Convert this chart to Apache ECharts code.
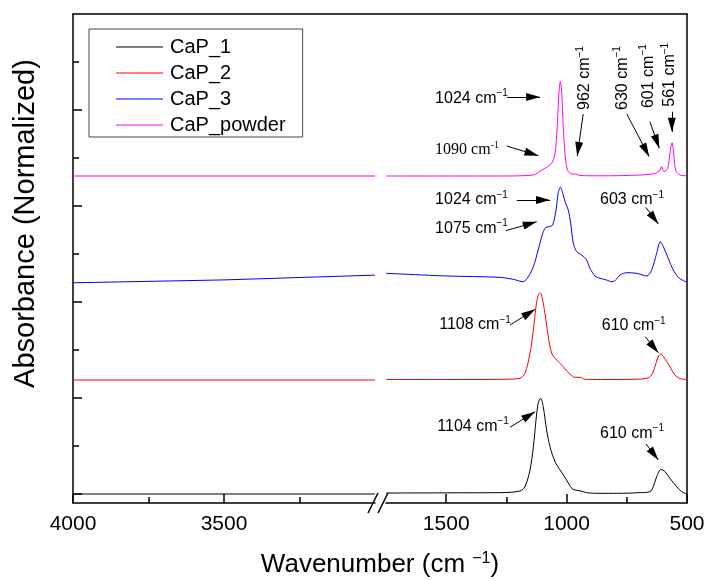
<!DOCTYPE html>
<html>
<head>
<meta charset="utf-8">
<script src="https://cdn.jsdelivr.net/npm/echarts@6/dist/echarts.min.js"></script>
<style>
html, body { margin: 0; padding: 0; background: #fff; }
#chart { width: 705px; height: 581px; }
</style>
</head>
<body>
<div id="chart"></div>
<script>
// spectra; values are relative to each trace's baseline
var seriesNames = ['CaP_1', 'CaP_2', 'CaP_3', 'CaP_powder'];
var seriesColors = ['#000000', '#ff0000', '#0000ff', '#ff00ff'];
var offsets = [0, 1.1875, 2.2, 3.3125];

var leftWn = [4000, 3500, 3000];
var cap1Left = [0, 0, 0];
var cap2Left = [0, 0, 0];
var cap3Left = [0, 0.03, 0.08];
var powderLeft = [0, 0, 0];

var cap1Wn = [1750, 1500, 1277, 1194, 1173, 1152, 1138, 1127, 1118, 1108, 1097, 1083, 1069, 1048, 1027, 1000, 979, 965, 944, 917, 861, 792, 695, 654, 640, 626, 608, 591, 571, 543, 522, 508, 500];
var cap1Abs = [0.010, 0.012, 0.014, 0.031, 0.076, 0.250, 0.493, 0.771, 0.945, 0.997, 0.909, 0.667, 0.493, 0.336, 0.250, 0.146, 0.059, 0.042, 0.034, 0.014, 0.007, 0.007, 0.014, 0.024, 0.076, 0.180, 0.257, 0.232, 0.164, 0.076, 0.024, 0.007, 0.005];

var cap2Wn = [1750, 1500, 1277, 1194, 1173, 1152, 1138, 1127, 1118, 1110, 1101, 1090, 1076, 1062, 1041, 1020, 1000, 979, 965, 944, 924, 860, 723, 667, 647, 633, 622, 609, 598, 584, 571, 550, 529, 508, 500];
var cap2Abs = [0.005, 0.005, 0.007, 0.018, 0.070, 0.278, 0.521, 0.764, 0.885, 0.909, 0.851, 0.695, 0.451, 0.278, 0.208, 0.156, 0.097, 0.045, 0.028, 0.028, 0.007, 0.005, 0.007, 0.018, 0.052, 0.139, 0.226, 0.271, 0.243, 0.191, 0.139, 0.052, 0.014, 0.007, 0.005];

var cap3Wn = [1750, 1498, 1277, 1221, 1180, 1159, 1138, 1118, 1099, 1086, 1072, 1058, 1044, 1035, 1026, 1016, 1004, 993, 983, 972, 958, 937, 917, 903, 882, 861, 834, 813, 799, 778, 750, 709, 667, 647, 626, 611, 598, 578, 557, 536, 515, 504, 500];
var cap3Abs = [0.099, 0.071, 0.057, 0.036, 0.011, 0.064, 0.168, 0.342, 0.516, 0.578, 0.584, 0.602, 0.758, 0.932, 0.995, 0.932, 0.828, 0.758, 0.620, 0.411, 0.324, 0.290, 0.238, 0.151, 0.071, 0.047, 0.029, 0.011, 0.022, 0.081, 0.105, 0.099, 0.071, 0.133, 0.307, 0.428, 0.376, 0.255, 0.133, 0.057, 0.022, 0.011, 0.010];

var powderWn = [1750, 1277, 1138, 1103, 1083, 1062, 1048, 1039, 1032, 1026, 1020, 1014, 1004, 993, 972, 962, 944, 861, 695, 633, 612, 606, 596, 580, 571, 562, 555, 547, 529, 504, 500];
var powderAbs = [0, 0, 0.010, 0.062, 0.091, 0.132, 0.236, 0.514, 0.861, 0.984, 0.861, 0.514, 0.167, 0.045, 0.018, 0.021, 0.005, 0.002, 0.010, 0.028, 0.062, 0.099, 0.045, 0.080, 0.236, 0.347, 0.236, 0.062, 0.010, 0.002, 0];

var leftTicks = [4000, 3500];
var leftMinor = [3750, 3250];
var rightTicks = [1500, 1000, 500];
var rightMinor = [1250, 750];
var yMajor = [0, 1, 2, 3, 4];
var yMinor = [0.5, 1.5, 2.5, 3.5, 4.5];

// peak labels (wavenumber, stacked absorbance), rot = vertical text
var peakLabels = [
    { t: '1024', x: 1546, y: 4.122 },
    { t: '1090', x: 1546, y: 3.583, serif: true },
    { t: '962', x: 924, y: 4.0, rot: true },
    { t: '630', x: 767, y: 4.0, rot: true },
    { t: '601', x: 661, y: 4.02, rot: true },
    { t: '561', x: 571, y: 4.034, rot: true },
    { t: '1024', x: 1546, y: 3.0625 },
    { t: '1075', x: 1546, y: 2.768 },
    { t: '603', x: 861, y: 3.0625 },
    { t: '1108', x: 1529, y: 1.76 },
    { t: '610', x: 854, y: 1.75 },
    { t: '1104', x: 1537, y: 0.701 },
    { t: '610', x: 861, y: 0.632 }
];
// arrow tail -> tip
var peakArrows = [
    [1247, 4.135, 1110, 4.135],
    [1249, 3.625, 1117, 3.524],
    [931, 3.958, 956, 3.521],
    [750, 3.958, 657, 3.514],
    [654, 3.878, 615, 3.601],
    [563, 3.982, 563, 3.774],
    [1207, 3.0625, 1069, 3.0625],
    [1252, 2.743, 1124, 2.836],
    [671, 2.986, 619, 2.8125],
    [1235, 1.760, 1131, 1.924],
    [674, 1.639, 619, 1.472],
    [1235, 0.695, 1131, 0.857],
    [670, 0.521, 619, 0.354]
];

var sans = 'Liberation Sans, Arial, sans-serif';
var serif = 'Liberation Serif, Times New Roman, serif';

function pairs(wn, vals, off) {
    var out = [];
    for (var i = 0; i < wn.length; i++) out.push([wn[i], vals[i] + off]);
    return out;
}

var chart = echarts.init(document.getElementById('chart'), null, { renderer: 'canvas' });

var leftVals = [cap1Left, cap2Left, cap3Left, powderLeft];
var rightWn = [cap1Wn, cap2Wn, cap3Wn, powderWn];
var rightVals = [cap1Abs, cap2Abs, cap3Abs, powderAbs];

var series = [];
for (var i = 0; i < 4; i++) {
    series.push({
        name: seriesNames[i], type: 'line', xAxisIndex: 0, yAxisIndex: 0,
        data: pairs(leftWn, leftVals[i], offsets[i]),
        showSymbol: false, symbol: 'none', color: seriesColors[i],
        lineStyle: { width: 1 }, silent: true
    });
}
for (var i = 0; i < 4; i++) {
    series.push({
        name: seriesNames[i], type: 'line', xAxisIndex: 2, yAxisIndex: 1,
        data: pairs(rightWn[i], rightVals[i], offsets[i]),
        showSymbol: false, symbol: 'none', color: seriesColors[i], smooth: 0.3,
        lineStyle: { width: 1 }, silent: true
    });
}

// annotations ride on an empty series in the right grid
series.push({
    type: 'line', xAxisIndex: 2, yAxisIndex: 1, data: [], silent: true,
    markPoint: {
        symbol: 'circle', symbolSize: 0, silent: true, animation: false,
        data: peakLabels.map(function (p) {
            var f = p.serif ? serif : sans;
            return {
                coord: [p.x, p.y],
                label: {
                    show: true, position: 'inside', align: 'left', verticalAlign: 'middle',
                    rotate: p.rot ? 90 : 0,
                    formatter: '{n|' + p.t + ' cm}{s|' + (p.serif ? '-1' : '\u22121') + '}',
                    rich: {
                        n: { fontSize: 16, fontFamily: f, color: '#000', lineHeight: 20 },
                        s: { fontSize: 10, fontFamily: f, color: '#000', lineHeight: 10, verticalAlign: 'top' }
                    }
                }
            };
        })
    },
    markLine: {
        silent: true, animation: false, symbol: ['none', 'triangle'], symbolSize: [0, 10],
        label: { show: false },
        lineStyle: { color: '#000', width: 1, type: 'solid' },
        data: peakArrows.map(function (a) {
            return [
                { coord: [a[0], a[1]], symbol: 'none' },
                { coord: [a[2], a[3]], symbol: 'triangle', symbolSize: [8, 14], symbolOffset: [0, 7] }
            ];
        })
    }
});

function plainNum(v) { return String(v); }

var frameLine = { show: true, onZero: false, lineStyle: { color: '#000', width: 1.5 } };
var noLine = { show: false, onZero: false };

var option = {
    animation: false,
    backgroundColor: '#fff',
    grid: [
        { left: 73, top: 14, width: 302, bottom: 78, outerBoundsMode: 'none', containLabel: false },
        { left: 386, top: 14, right: 18, bottom: 78, outerBoundsMode: 'none', containLabel: false },
        { left: 73, top: 14, right: 18, bottom: 78, outerBoundsMode: 'none', containLabel: false }
    ],
    legend: {
        orient: 'vertical', left: 89, top: 29,
        data: seriesNames,
        icon: 'rect', itemWidth: 47, itemHeight: 1, itemGap: 6,
        borderColor: '#444', borderWidth: 1, padding: [8, 17, 2, 27],
        textStyle: { fontSize: 20, fontFamily: sans, color: '#000', lineHeight: 20, padding: [0, 0, 0, 2] },
        selectedMode: false
    },
    xAxis: [
        { gridIndex: 0, type: 'value', min: 3000, max: 4000, inverse: true, position: 'bottom',
          axisLine: frameLine,
          axisTick: { show: true, inside: true, length: 9, customValues: leftTicks, lineStyle: { color: '#000', width: 1.5 } },
          axisLabel: { show: true, customValues: leftTicks, margin: 11, formatter: plainNum, fontSize: 21, fontFamily: sans, color: '#000' },
          splitLine: { show: false } },
        { gridIndex: 0, type: 'value', min: 3000, max: 4000, inverse: true, position: 'bottom',
          axisLine: noLine,
          axisTick: { show: true, inside: true, length: 6, customValues: leftMinor, lineStyle: { color: '#000', width: 1.5 } },
          axisLabel: { show: false }, splitLine: { show: false } },
        { gridIndex: 1, type: 'value', min: 500, max: 1750, inverse: true, position: 'bottom',
          axisLine: frameLine,
          axisTick: { show: true, inside: true, length: 9, customValues: rightTicks, lineStyle: { color: '#000', width: 1.5 } },
          axisLabel: { show: true, customValues: rightTicks, margin: 11, formatter: plainNum, fontSize: 21, fontFamily: sans, color: '#000' },
          splitLine: { show: false } },
        { gridIndex: 1, type: 'value', min: 500, max: 1750, inverse: true, position: 'bottom',
          axisLine: noLine,
          axisTick: { show: true, inside: true, length: 6, customValues: rightMinor, lineStyle: { color: '#000', width: 1.5 } },
          axisLabel: { show: false }, splitLine: { show: false } },
        { gridIndex: 2, type: 'value', min: 0, max: 1, position: 'top',
          axisLine: frameLine,
          axisTick: { show: false }, axisLabel: { show: false }, splitLine: { show: false } },
        { gridIndex: 2, type: 'value', min: 0, max: 1, position: 'bottom',
          axisLine: noLine, axisTick: { show: false }, axisLabel: { show: false }, splitLine: { show: false },
          name: '{a|Wavenumber (cm }{s|\u22121}{a|)}', nameLocation: 'middle', nameGap: 48,
          nameTextStyle: { rich: {
              a: { fontSize: 26, fontFamily: sans, color: '#000', lineHeight: 28 },
              s: { fontSize: 16, fontFamily: sans, color: '#000', lineHeight: 14, verticalAlign: 'top' }
          } } }
    ],
    yAxis: [
        { gridIndex: 0, type: 'value', min: -0.09375, max: 5, show: false },
        { gridIndex: 1, type: 'value', min: -0.09375, max: 5, show: false },
        { gridIndex: 2, type: 'value', min: -0.09375, max: 5, position: 'left',
          axisLine: frameLine,
          axisTick: { show: true, inside: true, length: 9, customValues: yMajor, lineStyle: { color: '#000', width: 1.5 } },
          axisLabel: { show: false }, splitLine: { show: false },
          name: 'Absorbance (Normalized)', nameLocation: 'middle', nameGap: 33,
          nameTextStyle: { fontSize: 29, fontFamily: sans, color: '#000', padding: [0, 0, 0, 70] } },
        { gridIndex: 2, type: 'value', min: -0.09375, max: 5, position: 'left',
          axisLine: noLine,
          axisTick: { show: true, inside: true, length: 6, customValues: yMinor, lineStyle: { color: '#000', width: 1.5 } },
          axisLabel: { show: false }, splitLine: { show: false } },
        { gridIndex: 2, type: 'value', min: -0.09375, max: 5, position: 'right',
          axisLine: frameLine,
          axisTick: { show: false }, axisLabel: { show: false }, splitLine: { show: false } }
    ],
    graphic: [
        { type: 'line', shape: { x1: 368, y1: 513, x2: 378, y2: 493 }, style: { stroke: '#000', lineWidth: 1.5 } },
        { type: 'line', shape: { x1: 378, y1: 513, x2: 388, y2: 493 }, style: { stroke: '#000', lineWidth: 1.5 } }
    ],
    series: series
};

chart.setOption(option);
</script>
</body>
</html>
